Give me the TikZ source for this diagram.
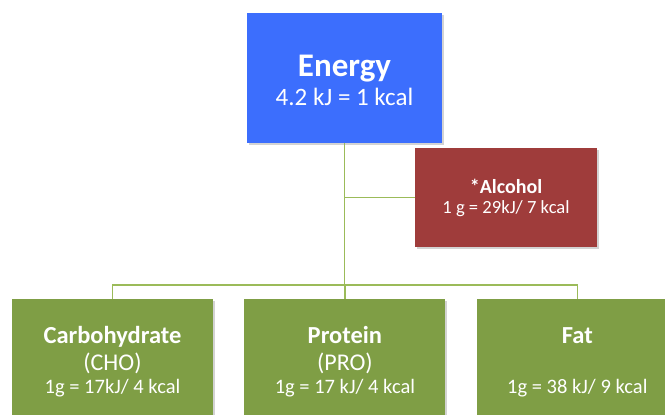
\documentclass[tikz,border=0pt]{standalone}
\usepackage{fontspec}
\setmainfont{Carlito}
\usetikzlibrary{positioning,shadows}
\definecolor{energyblue}{HTML}{3C6EFD}
\definecolor{alcoholred}{HTML}{9F3C3B}
\definecolor{foodgreen}{HTML}{7F9E45}
\definecolor{linkgreen}{HTML}{9BBB59}

\begin{document}
\begin{tikzpicture}[x=1pt,y=-1pt,
			box/.style={rectangle,draw=none,text=white,align=center,inner sep=0pt,
				drop shadow={opacity=0.35,shadow xshift=1.5pt,shadow yshift=-2pt}},
			foodbox/.style={box,fill=foodgreen,minimum width=201pt,minimum height=126pt,
				font=\fontsize{20.5}{23}\selectfont},
			link/.style={draw=linkgreen,line width=1.6pt}]
			\useasboundingbox (0,0) rectangle (665,415);
			\clip (0,0) rectangle (665,415);
			\node (energy) [box,fill=energyblue,minimum width=195pt,minimum height=130pt,
				font=\fontsize{25}{30}\selectfont] at (344.5,78)
				{\rule{0pt}{5pt}\\[-9pt]
				 {\fontsize{33}{30}\selectfont\bfseries Energy}\\[-1pt]
				 4.2 kJ = 1 kcal};
			\node (alcohol) [box,fill=alcoholred,minimum width=182pt,minimum height=99pt,
				font=\fontsize{18.6}{21}\selectfont] at (506,197.5)
				{{\fontsize{20}{21}\selectfont\bfseries *Alcohol}\\[-1pt]
				 1 g = 29kJ/ 7 kcal};
			\node (carb) [foodbox] at (112.5,362)
				{{\fontsize{24.5}{28}\selectfont\bfseries Carbohydrate}\\[4pt]
				 {\fontsize{24}{28}\selectfont (CHO)}\\
				 1g = 17kJ/ 4 kcal};
			\node (protein) [foodbox,right=31pt of carb]
				{{\fontsize{24.5}{28}\selectfont\bfseries Protein}\\[4pt]
				 {\fontsize{24}{28}\selectfont (PRO)}\\
				 1g = 17 kJ/ 4 kcal};
			\node (fat) [foodbox,right=31pt of protein]
				{{\fontsize{24.5}{28}\selectfont\bfseries Fat}\\[4pt]
				 \strut\\
				 1g = 38 kJ/ 9 kcal};
			% tree links
			\coordinate (bus) at ([yshift=14pt]protein.north);
			\draw [link] (energy.south) -- (energy.south |- bus);
			\draw [link] (energy.south |- alcohol.west) -- (alcohol.west);
			\draw [link] (carb.north) -- (carb.north |- bus) -- (fat.north |- bus) -- (fat.north);
			\draw [link] (protein.north) -- (protein.north |- bus);
		\end{tikzpicture}
\end{document}
